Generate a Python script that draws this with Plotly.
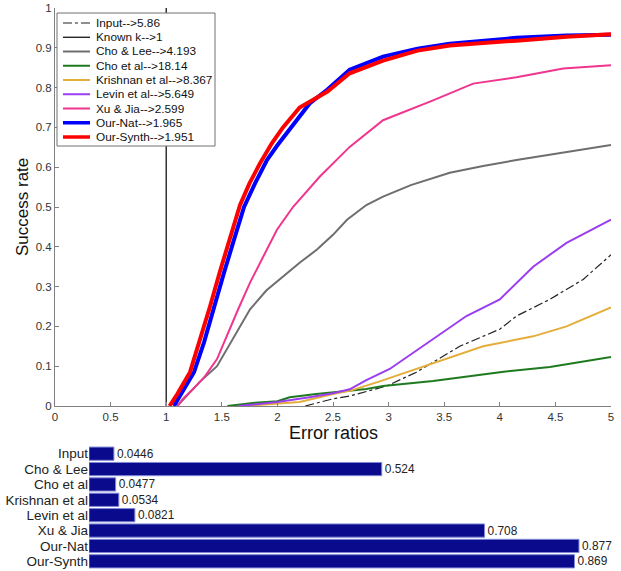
import plotly.graph_objects as go

W, H = 621, 571

# ---- curve data (error ratio -> success rate) ----
input_x = [2.25, 2.5, 2.65, 2.98, 3.25, 3.64, 4.0, 4.15, 4.45, 4.75, 5.0]
input_y = [0, 0.018, 0.025, 0.05, 0.085, 0.15, 0.193, 0.226, 0.268, 0.318, 0.38]

knownk_x = [1, 1]
knownk_y = [0, 1]

cholee_x = [1.10, 1.2, 1.3, 1.457, 1.6, 1.754, 1.9, 2.05, 2.2, 2.356, 2.5, 2.626, 2.8, 2.95, 3.2, 3.55, 3.85, 4.15, 4.6, 5.0]
cholee_y = [0, 0.03, 0.06, 0.10, 0.17, 0.243, 0.29, 0.325, 0.36, 0.393, 0.43, 0.468, 0.505, 0.526, 0.555, 0.586, 0.603, 0.618, 0.638, 0.656]

choetal_x = [1.55, 1.8, 2.0, 2.11, 2.35, 2.6, 2.80, 2.95, 3.40, 4.0, 4.45, 5.0]
choetal_y = [0, 0.008, 0.012, 0.022, 0.03, 0.038, 0.043, 0.05, 0.063, 0.085, 0.098, 0.123]

krishnan_x = [1.7, 2.0, 2.2, 2.5, 2.65, 2.9, 3.25, 3.55, 3.85, 4.30, 4.60, 5.0]
krishnan_y = [0, 0.005, 0.01, 0.03, 0.038, 0.06, 0.093, 0.12, 0.15, 0.175, 0.20, 0.248]

levin_x = [1.65, 2.0, 2.29, 2.5, 2.65, 2.8, 3.01, 3.2, 3.40, 3.70, 4.0, 4.30, 4.60, 4.8, 5.0]
levin_y = [0, 0.01, 0.022, 0.032, 0.042, 0.065, 0.093, 0.13, 0.168, 0.226, 0.268, 0.35, 0.41, 0.44, 0.468]

xujia_x = [1.10, 1.15, 1.25, 1.35, 1.457, 1.55, 1.65, 1.754, 1.88, 1.996, 2.14, 2.38, 2.65, 2.95, 3.40, 3.76, 4.15, 4.57, 5.0]
xujia_y = [0, 0.018, 0.045, 0.075, 0.118, 0.18, 0.245, 0.31, 0.38, 0.443, 0.50, 0.576, 0.651, 0.718, 0.768, 0.81, 0.826, 0.848, 0.856]

ournat_x = [1.07, 1.13, 1.25, 1.34, 1.43, 1.52, 1.61, 1.70, 1.80, 1.906, 2.0, 2.10, 2.29, 2.45, 2.65, 2.95, 3.26, 3.55, 4.15, 4.6, 5.0]
ournat_y = [0, 0.03, 0.085, 0.16, 0.25, 0.335, 0.418, 0.50, 0.56, 0.618, 0.655, 0.69, 0.76, 0.795, 0.845, 0.878, 0.898, 0.91, 0.925, 0.931, 0.933]

oursynth_x = [1.03, 1.10, 1.214, 1.30, 1.394, 1.48, 1.574, 1.664, 1.75, 1.844, 1.95, 2.05, 2.20, 2.45, 2.65, 2.95, 3.26, 3.55, 4.15, 4.6, 5.0]
oursynth_y = [0, 0.03, 0.085, 0.16, 0.25, 0.335, 0.418, 0.505, 0.56, 0.61, 0.66, 0.70, 0.75, 0.79, 0.836, 0.868, 0.893, 0.906, 0.918, 0.928, 0.934]

legend_labels = ["Input-->5.86", "Known k-->1", "Cho & Lee-->4.193", "Cho et al-->18.14",
                 "Krishnan et al-->8.367", "Levin et al-->5.649", "Xu & Jia-->2.599",
                 "Our-Nat-->1.965", "Our-Synth-->1.951"]

# ---- bar data ----
bar_labels = ["Input", "Cho & Lee", "Cho et al", "Krishnan et al", "Levin et al", "Xu & Jia", "Our-Nat", "Our-Synth"]
bar_values = [0.0446, 0.524, 0.0477, 0.0534, 0.0821, 0.708, 0.877, 0.869]
bar_text = ["0.0446", "0.524", "0.0477", "0.0534", "0.0821", "0.708", "0.877", "0.869"]

x_ticks = [0, 0.5, 1, 1.5, 2, 2.5, 3, 3.5, 4, 4.5, 5]
x_ticktext = ["0", "0.5", "1", "1.5", "2", "2.5", "3", "3.5", "4", "4.5", "5"]
y_ticks = [0, 0.1, 0.2, 0.3, 0.4, 0.5, 0.6, 0.7, 0.8, 0.9, 1]
y_ticktext = ["0", "0.1", "0.2", "0.3", "0.4", "0.5", "0.6", "0.7", "0.8", "0.9", "1"]

styles = [
    dict(color="#222222", width=1.2, dash="dashdot"),
    dict(color="#000000", width=1.2, dash="solid"),
    dict(color="#6e6e6e", width=2, dash="solid"),
    dict(color="#1f7a1f", width=2, dash="solid"),
    dict(color="#e3ae3a", width=2, dash="solid"),
    dict(color="#9b3df0", width=2, dash="solid"),
    dict(color="#f0358f", width=2, dash="solid"),
    dict(color="#0000ff", width=4, dash="solid"),
    dict(color="#ff0000", width=4, dash="solid"),
]
series = [(input_x, input_y), (knownk_x, knownk_y), (cholee_x, cholee_y), (choetal_x, choetal_y),
          (krishnan_x, krishnan_y), (levin_x, levin_y), (xujia_x, xujia_y),
          (ournat_x, ournat_y), (oursynth_x, oursynth_y)]

FONT = "Liberation Sans, Arial, sans-serif"

fig = go.Figure()
for (xs, ys), st, name in zip(series, styles, legend_labels):
    fig.add_trace(go.Scatter(x=xs, y=ys, mode="lines", name=name, line=st,
                             xaxis="x", yaxis="y", showlegend=False, hoverinfo="skip"))

fig.add_trace(go.Bar(x=bar_values, y=bar_labels, orientation="h", xaxis="x2", yaxis="y2",
                     marker=dict(color="#0a0a8c", line=dict(color="#8088d8", width=1)),
                     width=0.86, text=bar_text, textposition="outside", cliponaxis=False,
                     textfont=dict(size=13.5, color="#222222", family=FONT), showlegend=False,
                     hoverinfo="skip"))

def px_x(p):
    return p / W

def px_y(p):
    return (H - p) / H

shapes = []
annotations = []
# legend box
shapes.append(dict(type="rect", xref="paper", yref="paper", x0=px_x(57), x1=px_x(215),
                   y0=px_y(146), y1=px_y(13), fillcolor="white",
                   line=dict(color="#707070", width=1), layer="above"))
for i, (name, st) in enumerate(zip(legend_labels, styles)):
    yc = 23 + 14.25 * i
    shapes.append(dict(type="line", xref="paper", yref="paper", x0=px_x(63), x1=px_x(90),
                       y0=px_y(yc), y1=px_y(yc), layer="above",
                       line=dict(color=st["color"], width=min(st["width"], 3.5), dash=st["dash"])))
    annotations.append(dict(xref="paper", yref="paper", x=px_x(94), y=px_y(yc), text=name,
                            showarrow=False, xanchor="left", yanchor="middle",
                            font=dict(size=11.8, color="#111111", family=FONT)))

annotations.append(dict(xref="paper", yref="paper", x=px_x(333), y=px_y(433), text="Error ratios",
                        showarrow=False, xanchor="center", yanchor="middle",
                        font=dict(size=18, color="#111111", family=FONT)))
annotations.append(dict(xref="paper", yref="paper", x=px_x(22), y=px_y(207), text="Success rate",
                        showarrow=False, xanchor="center", yanchor="middle", textangle=-90,
                        font=dict(size=17, color="#111111", family=FONT)))

fig.update_layout(
    width=W, height=H, margin=dict(l=0, r=0, t=0, b=0, pad=0), autosize=False,
    paper_bgcolor="white", plot_bgcolor="white",
    font=dict(family=FONT, color="#333333"),
    xaxis=dict(domain=[px_x(55), px_x(611)], range=[0, 5], tickvals=x_ticks, ticktext=x_ticktext,
               ticks="inside", ticklen=4, tickcolor="#808080", showline=True, linecolor="#808080",
               showgrid=False, zeroline=False, anchor="y", automargin=False,
               tickfont=dict(size=11.5, color="#333333")),
    yaxis=dict(domain=[px_y(406), px_y(8)], range=[0, 1], tickvals=y_ticks, ticktext=y_ticktext,
               ticks="inside", ticklen=4, tickcolor="#808080", showline=True, linecolor="#808080",
               showgrid=False, zeroline=False, anchor="x", automargin=False,
               tickfont=dict(size=11.5, color="#333333")),
    xaxis2=dict(domain=[px_x(89), px_x(89 + 0.9 * 558.7)], range=[0, 0.9], visible=False,
                anchor="y2", automargin=False),
    yaxis2=dict(domain=[px_y(569), px_y(446)], type="category", categoryorder="array",
                categoryarray=bar_labels, range=[7.5, -0.5], anchor="x2", showgrid=False,
                tickmode="array", tickvals=bar_labels, ticktext=bar_labels,
                showline=False, ticks="", zeroline=False, automargin=False,
                tickfont=dict(size=13.5, color="#222222", family=FONT)),
    shapes=shapes, annotations=annotations,
)

fig.write_html("out.html", config={"displayModeBar": False},
               post_script="document.body.style.margin='0';document.body.style.overflow='hidden';")
